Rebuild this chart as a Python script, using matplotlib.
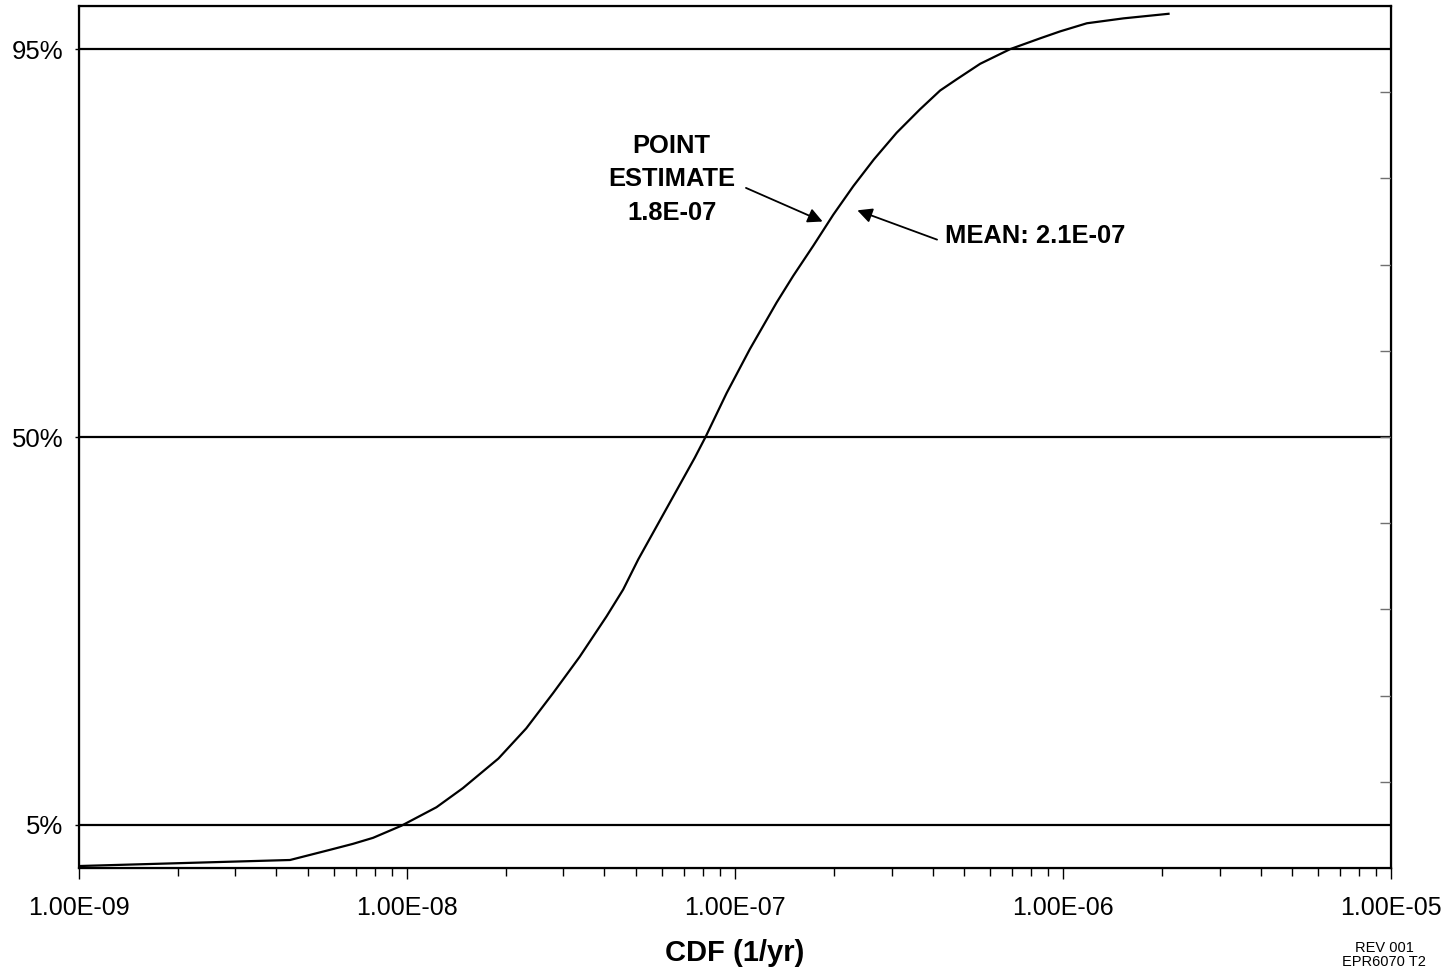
import numpy as np
import matplotlib
matplotlib.use("Agg")
import matplotlib.pyplot as plt
from matplotlib.ticker import FixedLocator, NullFormatter, LogLocator

plt.rcParams['font.family'] = ['Liberation Sans', 'DejaVu Sans']

# CDF distribution
cdf_x = [1.0e-9, 4.4e-9, 5.81e-9, 6.84e-9, 7.88e-9, 9.61e-9, 1.23e-8, 1.48e-8,
         1.90e-8, 2.31e-8, 2.79e-8, 3.36e-8, 4.06e-8, 4.56e-8, 5.07e-8,
         7.54e-8, 8.13e-8, 9.43e-8, 1.11e-7, 1.339e-7, 1.505e-7, 1.733e-7,
         1.994e-7, 2.294e-7, 2.65e-7, 3.11e-7, 3.66e-7, 4.22e-7, 4.74e-7,
         5.59e-7, 6.90e-7, 8.51e-7, 9.80e-7, 1.182e-6, 1.529e-6, 2.097e-6]
cdf_y = [0.0023, 0.0093, 0.021, 0.028, 0.035, 0.049, 0.0705, 0.0926,
         0.127, 0.162, 0.203, 0.245, 0.292, 0.323, 0.358,
         0.476, 0.5, 0.551, 0.602, 0.656, 0.687, 0.722,
         0.758, 0.791, 0.822, 0.853, 0.880, 0.902, 0.915,
         0.933, 0.950, 0.9625, 0.9706, 0.980, 0.9857, 0.991]

pct_levels = [0.05, 0.50, 0.95]
pct_labels = ["5%", "50%", "95%"]
x_ticks = [1e-9, 1e-8, 1e-7, 1e-6, 1e-5]
x_labels = ["1.00E-09", "1.00E-08", "1.00E-07", "1.00E-06", "1.00E-05"]
point_est = 1.8e-7
mean_val = 2.1e-7

fig = plt.figure(figsize=(14.51, 9.73), dpi=100)
ax = fig.add_axes([0.0544, 0.1079, 0.9043, 0.8859])

for lv in pct_levels:
    ax.axhline(lv, color='black', lw=1.6, zorder=1)
ax.plot(cdf_x, cdf_y, color='black', lw=1.6, zorder=2)

ax.set_xscale('log')
ax.set_xlim(1e-9, 1e-5)
ax.set_ylim(0, 1)

ax.xaxis.set_major_locator(FixedLocator(x_ticks))
ax.set_xticklabels(x_labels, fontsize=18)
ax.xaxis.set_minor_locator(LogLocator(base=10, subs=np.arange(2, 10)))
ax.xaxis.set_minor_formatter(NullFormatter())
ax.tick_params(axis='x', which='major', direction='out', length=8, width=1, pad=12)
ax.tick_params(axis='x', which='minor', direction='out', length=6, width=1)

ax.set_yticks(pct_levels)
ax.set_yticklabels(pct_labels, fontsize=18.5)
ax.tick_params(axis='y', which='major', direction='out', length=3, width=1, pad=8)

for sp in ax.spines.values():
    sp.set_linewidth(1.6)

ax2 = ax.twinx()
ax2.set_ylim(0, 1)
ax2.set_yticks(np.arange(1, 10) / 10)
ax2.tick_params(axis='y', direction='in', length=8, width=1, color='#707070',
                labelright=False)

ax.set_xlabel("CDF (1/yr)", fontsize=21, fontweight='bold', labelpad=14)

arrow = dict(arrowstyle='-|>', mutation_scale=22, lw=1.3, color='black',
             shrinkA=0, shrinkB=0)
ax.annotate("", xy=(1.85e-7, 0.750), xytext=(1.08e-7, 0.789), arrowprops=arrow)
ax.annotate("", xy=(2.36e-7, 0.763), xytext=(4.13e-7, 0.729), arrowprops=arrow)
ax.text(6.41e-8, 0.799, "POINT\nESTIMATE\n%.1E" % point_est, fontsize=18.4,
        fontweight='bold', ha='center', va='center', linespacing=1.5)
ax.text(4.36e-7, 0.733, "MEAN: %.1E" % mean_val, fontsize=18.4,
        fontweight='bold', ha='left', va='center')

fig.text(0.9538, 0.0185, "REV 001\nEPR6070 T2", fontsize=10.5, ha='center',
         va='center', linespacing=1.06)

fig.savefig("out.png", dpi=100)
